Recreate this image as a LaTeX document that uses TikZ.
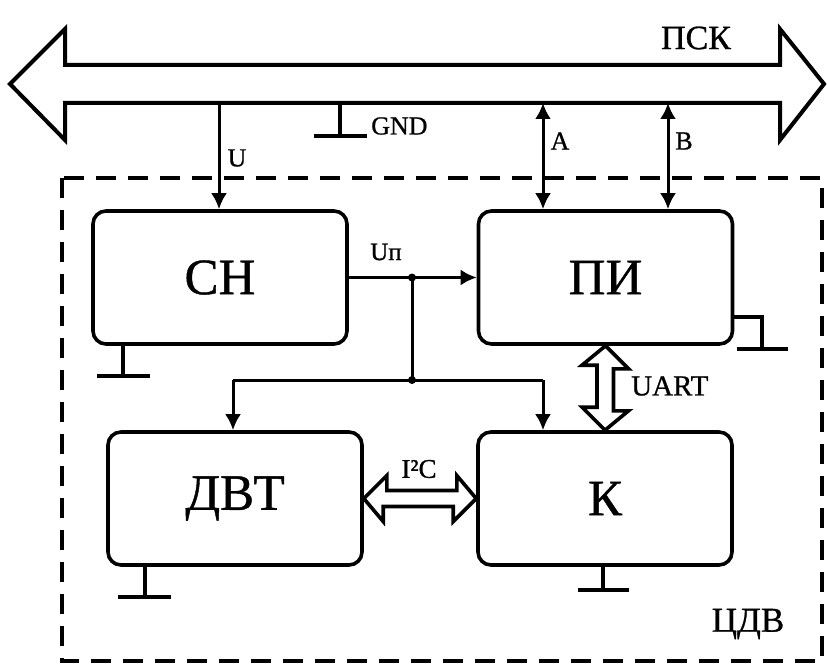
\documentclass[tikz,border=0pt]{standalone}
\usepackage{fontspec}
\setmainfont{Liberation Serif}
\newfontfamily\heavy{Liberation Serif}[FakeBold=0.8]
\usetikzlibrary{arrows.meta,calc}
\tikzset{
  blk/.style={draw, line width=3.6pt, rounded corners=13pt, minimum width=254pt, minimum height=133pt, inner sep=0pt, font=\heavy\fontsize{51}{55}\selectfont},
  wire/.style={line width=3pt},
  arr/.style={wire, -{Latex[length=16pt,width=16pt]}},
  darr/.style={wire, {Latex[length=16pt,width=16pt]}-{Latex[length=16pt,width=16pt]}},
  fat/.style={line width=3.6pt, line join=miter, fill=white},
  gnd/.style={line width=3.6pt},
  lbl/.style={inner sep=0pt, font=\heavy\fontsize{26}{30}\selectfont},
  dot/.style={circle, fill, inner sep=0pt, minimum size=8pt},
}
\begin{document}
\begin{tikzpicture}[x=1pt,y=-1pt]
\useasboundingbox (0,0) rectangle (827,666);
% bus
\draw[fat, line width=4pt] (10,84) -- (65,29) -- (65,65) -- (780,65) -- (780,29) -- (824,84) -- (780,140) -- (780,103) -- (65,103) -- (65,140) -- cycle;
\node[lbl, font=\heavy\fontsize{34}{38}\selectfont] (psk) at (696,38) {ПСК};
\coordinate (busU) at (219,103);
\coordinate (busG) at (340,103);
\coordinate (busA) at (543,103);
\coordinate (busB) at (668,103);
% dashed frame
\draw[line width=4.5pt, dash pattern=on 20pt off 12pt] (62,178) rectangle (822,661);
\node[lbl, font=\heavy\fontsize{35}{38}\selectfont] (cdv) at (748,624) {ЦДВ};
% blocks
\node[blk] (cn) at (220,277.5) {СН};
\node[blk] (pi) at (605.5,277.5) {ПИ};
\node[blk] (dvt) at (235,498.5) {ДВТ};
\node[blk] (k) at (605,498.5) {К};
% U
\draw[arr] (busU) -- (busU |- cn.north);
\node[lbl] (lu) at (237,158) {U};
% GND
\draw[gnd] (busG) -- ++(0,33) coordinate (g0);
\draw[gnd] ($(g0)+(-26,0)$) -- ($(g0)+(27,0)$);
\node[lbl, anchor=west] (lg) at (371,126) {GND};
% A, B
\draw[darr] (busA) -- (busA |- pi.north);
\draw[darr] (busB) -- (busB |- pi.north);
\node[lbl] (la) at (560,141) {A};
\node[lbl] (lb) at (684,141) {B};
% Up
\draw[arr] (cn.east) -- (pi.west);
\coordinate (j1) at (412,277.5);
\coordinate (j2) at (412,380);
\node[dot] (d1) at (j1) {};
\node[dot] (d2) at (j2) {};
\draw[wire] (j1) -- (j2);
\coordinate (l1) at (233,380);
\coordinate (r1) at (543,380);
\draw[wire] (l1) -- (r1);
\draw[arr] (l1) -- (l1 |- dvt.north);
\draw[arr] (r1) -- (r1 |- k.north);
\node[lbl, font=\heavy\fontsize{25}{28}\selectfont] (lup) at (386,252) {Uп};
% UART
\draw[fat] (pi.south) -- ++(23,23) -- ++(-15,0) -- ++(0,42) -- ++(15,0) -- (k.north) -- ++(-23,-23) -- ++(15,0) -- ++(0,-42) -- ++(-15,0) -- cycle;
\node[lbl, font=\heavy\fontsize{29}{32}\selectfont, anchor=west] (luart) at (631,386) {UART};
% I2C
\draw[fat] (dvt.east) -- ++(23,-23) -- ++(0,15) -- ++(70,0) -- ++(0,-15) -- (k.west) -- ++(-23,23) -- ++(0,-15) -- ++(-70,0) -- ++(0,15) -- cycle;
\node[lbl, font=\heavy\fontsize{27}{30}\selectfont] (li2c) at (419,469) {I²C};
% grounds
\draw[gnd] (123,344) -- (123,376);
\draw[gnd] (97,376) -- (150,376);
\draw[gnd] (145,565) -- (145,597);
\draw[gnd] (118,597) -- (171,597);
\draw[gnd] (603,565) -- (603,590);
\draw[gnd] (578,590) -- (629,590);
\draw[gnd] (733,317) -- (762,317) -- (762,349);
\draw[gnd] (737,349) -- (788,349);
\end{tikzpicture}
\end{document}
